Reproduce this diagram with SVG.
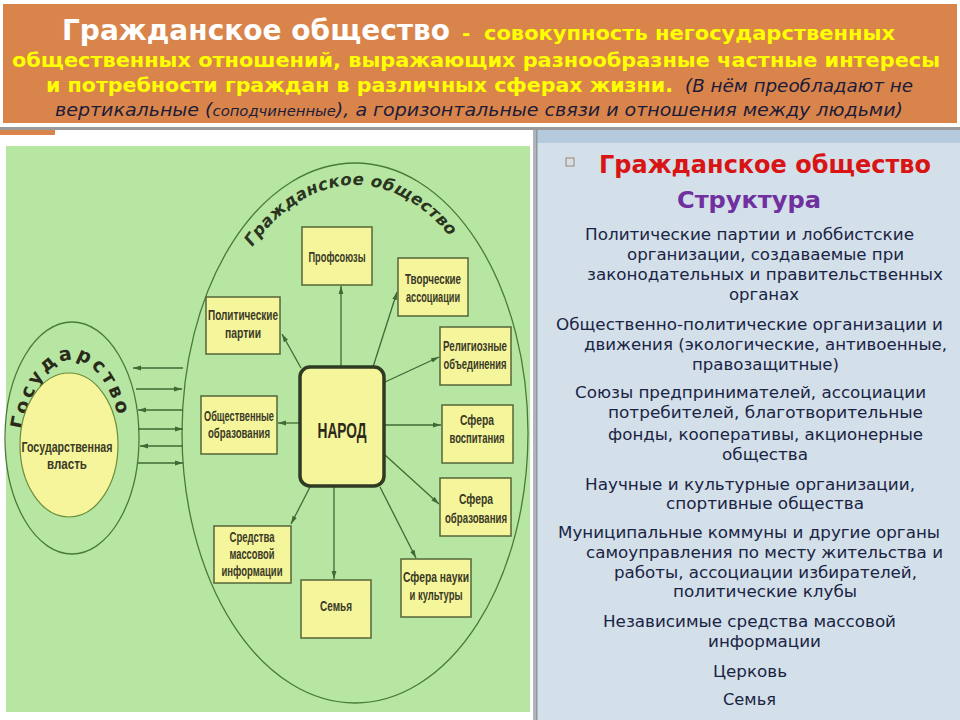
<svg xmlns="http://www.w3.org/2000/svg" width="960" height="720" viewBox="0 0 960 720">
<defs>
<style>
.hw{font-family:"DejaVu Sans",sans-serif;font-weight:bold;fill:#ffffff}
.hy{font-family:"DejaVu Sans",sans-serif;font-weight:bold;font-size:20px;fill:#ffff00}
.hi{font-family:"DejaVu Sans",sans-serif;font-style:italic;font-size:18px;fill:#1c1c3a}
.box{fill:#f5f59c;stroke:#56663a;stroke-width:1.5}
.bt{font-family:"Liberation Sans",sans-serif;font-size:14px;font-weight:bold;fill:#3a3a26;text-anchor:middle}
.conn{stroke:#3f6a35;stroke-width:1.3;fill:none;marker-end:url(#ah)}
.rt{font-family:"DejaVu Sans",sans-serif;font-size:16px;fill:#1a2444}
</style>
<marker id="ah" viewBox="0 0 10 10" refX="10" refY="5" markerWidth="8" markerHeight="8" markerUnits="userSpaceOnUse" orient="auto">
<path d="M0,2 L10,5 L0,8 z" fill="#3f6a35"/>
</marker>
<path id="arcGO" d="M200,433 A155,248 0 0 1 510,433"/>
<path id="arcGS" d="M22,440 A51,100 0 0 1 122,440"/>
</defs>

<rect x="0" y="0" width="960" height="720" fill="#ffffff"/>

<!-- header -->
<g id="header">
<rect x="3" y="4" width="954" height="119" fill="#d9844b"/>
<text x="62" y="40" class="hw" font-size="28" textLength="388" lengthAdjust="spacingAndGlyphs">Гражданское общество</text>
<text x="462" y="40" class="hy">-</text>
<text x="484" y="40" class="hy" textLength="411" lengthAdjust="spacingAndGlyphs">совокупность негосударственных</text>
<text x="12" y="67" class="hy" textLength="928" lengthAdjust="spacingAndGlyphs">общественных отношений, выражающих разнообразные частные интересы</text>
<text x="46" y="92" class="hy" textLength="627" lengthAdjust="spacingAndGlyphs">и потребности граждан в различных сферах жизни.</text>
<text x="685" y="92" class="hi" textLength="228" lengthAdjust="spacingAndGlyphs">(В нём преобладают не</text>
<text x="55" y="116" class="hi" textLength="848" lengthAdjust="spacingAndGlyphs">вертикальные (<tspan font-size="14">соподчиненные</tspan>), а горизонтальные связи и отношения между людьми)</text>
</g>

<!-- frame -->
<rect x="0" y="127" width="960" height="3" fill="#9a9a9a"/>
<rect x="0" y="130" width="55" height="5" fill="#d9844b"/>
<rect x="6" y="146" width="524" height="566" fill="#b7e6a2"/>
<rect x="533" y="130" width="3" height="590" fill="#b0b4b8"/>
<rect x="537" y="130" width="423" height="590" fill="#d3dfe9"/>
<rect x="537" y="130" width="423" height="13" fill="#b5cadd"/>
<rect x="536" y="130" width="1.5" height="590" fill="#8b98a4"/>

<!-- state -->
<g id="state">
<ellipse cx="72" cy="438" rx="67" ry="116" fill="none" stroke="#4a7a3a" stroke-width="1.3"/>
<text font-family="DejaVu Sans, sans-serif" font-weight="bold" font-size="19" fill="#2a2a1a" letter-spacing="3"><textPath href="#arcGS" startOffset="47%" text-anchor="middle">Государство</textPath></text>
</g>
<g id="state-power">
<ellipse cx="69" cy="445" rx="49" ry="72" fill="#f6f59c" stroke="#6b8e3a" stroke-width="1.2"/>
<text x="67" y="452" class="bt" font-size="16" textLength="91" lengthAdjust="spacingAndGlyphs">Государственная</text>
<text x="67" y="469" class="bt" font-size="16" textLength="40" lengthAdjust="spacingAndGlyphs">власть</text>
</g>

<!-- civil society ellipse -->
<g id="civil-society">
<ellipse cx="355" cy="433" rx="173" ry="270" fill="none" stroke="#4a7a3a" stroke-width="1.3"/>
<text font-family="DejaVu Sans, sans-serif" font-style="italic" font-weight="bold" font-size="16.5" fill="#2a3420" letter-spacing="0.4"><textPath href="#arcGO" startOffset="49%" text-anchor="middle">Гражданское  общество</textPath></text>
</g>

<!-- connectors -->
<g id="connectors">
<path class="conn" d="M183,368 L133,368"/>
<path class="conn" d="M136,389 L182,389"/>
<path class="conn" d="M183,410 L138,410"/>
<path class="conn" d="M138,429 L183,429"/>
<path class="conn" d="M183,446 L140,446"/>
<path class="conn" d="M138,463 L183,463"/>
<path class="conn" d="M341,367 L341,286"/>
<path class="conn" d="M373,367 L397,292"/>
<path class="conn" d="M301,368 L282,334"/>
<path class="conn" d="M385,382 L439,357"/>
<path class="conn" d="M385,425 L441,425"/>
<path class="conn" d="M385,455 L439,504"/>
<path class="conn" d="M380,487 L416,558"/>
<path class="conn" d="M334,487 L334,579"/>
<path class="conn" d="M310,487 L291,524"/>
<path class="conn" d="M299,423 L278,423"/>
</g>

<!-- nodes -->
<g id="narod">
<rect x="300" y="367" width="84" height="119" rx="10" fill="#f5f59c" stroke="#2e3a22" stroke-width="3.5"/>
<text x="342" y="438" font-family="Liberation Sans, sans-serif" font-weight="bold" font-size="22" fill="#2a2a1a" text-anchor="middle" textLength="49" lengthAdjust="spacingAndGlyphs">НАРОД</text>
</g>
<g id="n-profsoyuzy">
<rect class="box" x="302" y="227" width="70" height="58"/>
<text class="bt" x="337" y="262" textLength="57" lengthAdjust="spacingAndGlyphs">Профсоюзы</text>
</g>
<g id="n-tvorcheskie">
<rect class="box" x="398" y="258" width="70" height="58"/>
<text class="bt" x="433" y="284" textLength="56" lengthAdjust="spacingAndGlyphs">Творческие</text>
<text class="bt" x="433" y="302" textLength="54" lengthAdjust="spacingAndGlyphs">ассоциации</text>
</g>
<g id="n-politicheskie">
<rect class="box" x="206" y="297" width="74" height="57"/>
<text class="bt" x="243" y="320" textLength="70" lengthAdjust="spacingAndGlyphs">Политические</text>
<text class="bt" x="243" y="338" textLength="36" lengthAdjust="spacingAndGlyphs">партии</text>
</g>
<g id="n-religioznye">
<rect class="box" x="440" y="327" width="71" height="58"/>
<text class="bt" x="475" y="351" textLength="64" lengthAdjust="spacingAndGlyphs">Религиозные</text>
<text class="bt" x="475" y="369" textLength="63" lengthAdjust="spacingAndGlyphs">объединения</text>
</g>
<g id="n-obshchestvennye">
<rect class="box" x="201" y="396" width="76" height="58"/>
<text class="bt" x="239" y="421" textLength="70" lengthAdjust="spacingAndGlyphs">Общественные</text>
<text class="bt" x="239" y="438" textLength="62" lengthAdjust="spacingAndGlyphs">образования</text>
</g>
<g id="n-vospitanie">
<rect class="box" x="442" y="405" width="71" height="58"/>
<text class="bt" x="477" y="425" textLength="34" lengthAdjust="spacingAndGlyphs">Сфера</text>
<text class="bt" x="477" y="443" textLength="55" lengthAdjust="spacingAndGlyphs">воспитания</text>
</g>
<g id="n-obrazovanie">
<rect class="box" x="440" y="478" width="71" height="58"/>
<text class="bt" x="476" y="504" textLength="34" lengthAdjust="spacingAndGlyphs">Сфера</text>
<text class="bt" x="476" y="523" textLength="62" lengthAdjust="spacingAndGlyphs">образования</text>
</g>
<g id="n-nauka">
<rect class="box" x="401" y="559" width="70" height="58"/>
<text class="bt" x="436" y="582" textLength="66" lengthAdjust="spacingAndGlyphs">Сфера науки</text>
<text class="bt" x="436" y="600" textLength="53" lengthAdjust="spacingAndGlyphs">и культуры</text>
</g>
<g id="n-semya">
<rect class="box" x="301" y="580" width="70" height="58"/>
<text class="bt" x="336" y="611" textLength="32" lengthAdjust="spacingAndGlyphs">Семья</text>
</g>
<g id="n-smi">
<rect class="box" x="214" y="526" width="77" height="57"/>
<text class="bt" x="252" y="542" textLength="45" lengthAdjust="spacingAndGlyphs">Средства</text>
<text class="bt" x="252" y="559" textLength="45" lengthAdjust="spacingAndGlyphs">массовой</text>
<text class="bt" x="252" y="576" textLength="61" lengthAdjust="spacingAndGlyphs">информации</text>
</g>

<!-- right panel -->
<g id="structure">
<rect x="566" y="158" width="8" height="8" fill="none" stroke="#a0856f" stroke-width="1"/>
<text x="599" y="173" font-family="DejaVu Sans, sans-serif" font-weight="bold" font-size="24" fill="#d81414" textLength="332" lengthAdjust="spacingAndGlyphs">Гражданское общество</text>
<text x="677" y="208" font-family="DejaVu Sans, sans-serif" font-weight="bold" font-size="23" fill="#7030a0" textLength="144" lengthAdjust="spacingAndGlyphs">Структура</text>
<text class="rt" x="585" y="240" textLength="329" lengthAdjust="spacingAndGlyphs">Политические партии и лоббистские</text>
<text class="rt" x="627" y="260" textLength="277" lengthAdjust="spacingAndGlyphs">организации, создаваемые при</text>
<text class="rt" x="587" y="280" textLength="356" lengthAdjust="spacingAndGlyphs">законодательных и правительственных</text>
<text class="rt" x="729" y="300" textLength="70" lengthAdjust="spacingAndGlyphs">органах</text>
<text class="rt" x="556" y="330" textLength="387" lengthAdjust="spacingAndGlyphs">Общественно-политические организации и</text>
<text class="rt" x="584" y="350" textLength="363" lengthAdjust="spacingAndGlyphs">движения (экологические, антивоенные,</text>
<text class="rt" x="692" y="370" textLength="147" lengthAdjust="spacingAndGlyphs">правозащитные)</text>
<text class="rt" x="575" y="398" textLength="351" lengthAdjust="spacingAndGlyphs">Союзы предпринимателей, ассоциации</text>
<text class="rt" x="608" y="418" textLength="315" lengthAdjust="spacingAndGlyphs">потребителей, благотворительные</text>
<text class="rt" x="608" y="440" textLength="315" lengthAdjust="spacingAndGlyphs">фонды, кооперативы, акционерные</text>
<text class="rt" x="722" y="460" textLength="86" lengthAdjust="spacingAndGlyphs">общества</text>
<text class="rt" x="585" y="490" textLength="330" lengthAdjust="spacingAndGlyphs">Научные и культурные организации,</text>
<text class="rt" x="666" y="509" textLength="198" lengthAdjust="spacingAndGlyphs">спортивные общества</text>
<text class="rt" x="558" y="538" textLength="382" lengthAdjust="spacingAndGlyphs">Муниципальные коммуны и другие органы</text>
<text class="rt" x="586" y="558" textLength="357" lengthAdjust="spacingAndGlyphs">самоуправления по месту жительства и</text>
<text class="rt" x="614" y="578" textLength="303" lengthAdjust="spacingAndGlyphs">работы, ассоциации избирателей,</text>
<text class="rt" x="673" y="597" textLength="184" lengthAdjust="spacingAndGlyphs">политические клубы</text>
<text class="rt" x="603" y="627" textLength="293" lengthAdjust="spacingAndGlyphs">Независимые средства массовой</text>
<text class="rt" x="708" y="647" textLength="113" lengthAdjust="spacingAndGlyphs">информации</text>
<text class="rt" x="713" y="677" textLength="74" lengthAdjust="spacingAndGlyphs">Церковь</text>
<text class="rt" x="723" y="705" textLength="53" lengthAdjust="spacingAndGlyphs">Семья</text>
</g>
</svg>
